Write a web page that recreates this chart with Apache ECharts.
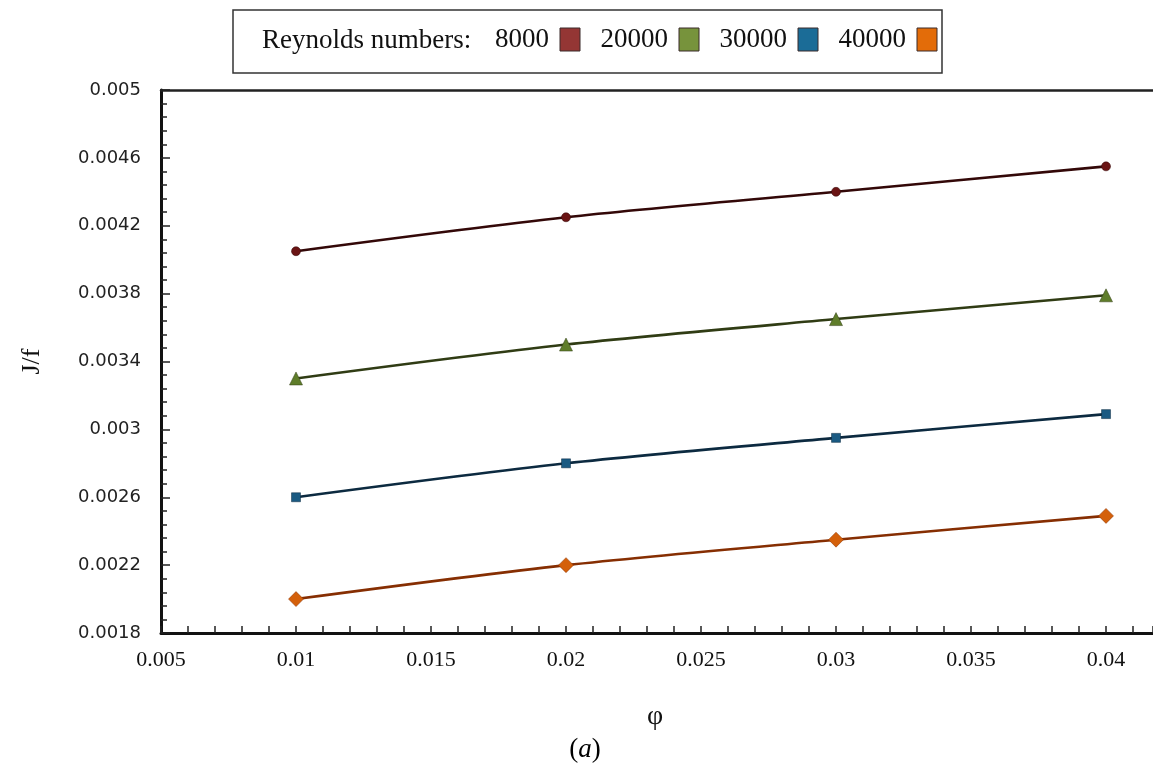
<!DOCTYPE html>
<html>
<head>
<meta charset="utf-8">
<script src="https://cdn.jsdelivr.net/npm/echarts@6/dist/echarts.min.js"></script>
<style>html,body{margin:0;padding:0;background:#fff;}#c{width:1153px;height:770px;}</style>
</head>
<body>
<div id="c"></div>
<script>
// ---- data ----
const phi = [0.01, 0.02, 0.03, 0.04];
const seriesNames = ['8000', '20000', '30000', '40000'];
const re8000 = [0.00405, 0.00425, 0.00440, 0.00455];
const re20000 = [0.00330, 0.00350, 0.00365, 0.00379];
const re30000 = [0.00260, 0.00280, 0.00295, 0.00309];
const re40000 = [0.00200, 0.00220, 0.00235, 0.00249];
const yTicks = ['0.0018','0.0022','0.0026','0.003','0.0034','0.0038','0.0042','0.0046','0.005'];
const xTicks = ['0.005','0.01','0.015','0.02','0.025','0.03','0.035','0.04'];

const legendColors = ['#943634', '#77933C', '#1B6C97', '#E36C09'];
const lineColors = ['#330808', '#303c14', '#0c2a40', '#862e02'];
const markerColors = ['#6a1414', '#5f7d2a', '#1a5a82', '#d4600a'];
const symbols = ['circle', 'triangle', 'rect', 'diamond'];
const symbolSizes = [9, 13, 9, 15];
const values = [re8000, re20000, re30000, re40000];

const X_MIN = 0.005, X_MAX = 0.04174;
const chart = echarts.init(document.getElementById('c'), null, {renderer: 'canvas'});
const serif = '"Liberation Serif", "DejaVu Serif", serif';

chart.setOption({
  animation: false,
  backgroundColor: '#fff',
  grid: {left: 161, top: 90, bottom: 137, right: 0},
  legend: {
    left: 495, top: 26, padding: 0,
    align: 'right', icon: 'rect', itemWidth: 20, itemHeight: 23, itemGap: 20,
    textStyle: {fontFamily: serif, fontSize: 27, color: '#111', padding: [0, 6, 0, 0]},
    data: seriesNames.map((n, i) => ({name: n, itemStyle: {color: legendColors[i], borderColor: '#3a2a2a', borderWidth: 1}}))
  },
  xAxis: [{
    type: 'value', min: X_MIN, max: X_MAX, interval: 0.005, position: 'bottom',
    axisLine: {show: true, onZero: false, lineStyle: {color: '#111', width: 3}},
    axisTick: {show: false},
    splitLine: {show: false},
    axisLabel: {margin: 16, fontFamily: serif, fontSize: 22, color: '#111', showMaxLabel: false,
      formatter: v => { const s = String(+v.toFixed(4)); return xTicks.indexOf(s) >= 0 ? s : ''; }}
  }, {
    type: 'value', min: X_MIN, max: X_MAX, interval: 0.001, position: 'bottom',
    axisLine: {show: false, onZero: false},
    axisTick: {show: true, inside: true, length: 7, lineStyle: {color: '#222', width: 1.5}},
    axisLabel: {show: false}, splitLine: {show: false}
  }, {
    type: 'value', min: X_MIN, max: X_MAX, position: 'top',
    axisLine: {show: true, onZero: false, lineStyle: {color: '#222', width: 2.5}},
    axisTick: {show: false}, axisLabel: {show: false}, splitLine: {show: false}
  }],
  yAxis: {
    type: 'value', min: 0.0018, max: 0.005, interval: 0.0004,
    name: 'J/f', nameLocation: 'middle', nameGap: 116,
    nameTextStyle: {fontFamily: serif, fontSize: 26, color: '#111'},
    axisLine: {show: true, onZero: false, lineStyle: {color: '#111', width: 3}},
    axisTick: {show: true, inside: true, length: 9, lineStyle: {color: '#222', width: 1.5}},
    minorTick: {show: true, splitNumber: 5, length: 6, lineStyle: {color: '#222', width: 1.5}},
    splitLine: {show: false},
    axisLabel: {margin: 20, fontFamily: '"DejaVu Sans", sans-serif', fontSize: 18, color: '#222',
      formatter: v => { const s = String(+v.toFixed(4)); return yTicks.indexOf(s) >= 0 ? s : ''; }}
  },
  graphic: [
    {type: 'rect', shape: {x: 233, y: 10, width: 709, height: 63}, style: {fill: '#fff', stroke: '#333', lineWidth: 1.5}, z: -1},
    {type: 'text', x: 262, y: 41, style: {text: 'Reynolds numbers:', font: '27px ' + serif, fill: '#111', verticalAlign: 'middle'}},
    {type: 'text', x: 655, y: 717, style: {text: 'φ', font: '28px ' + serif, fill: '#111', align: 'center', verticalAlign: 'middle'}},
    {type: 'text', x: 585, y: 750, style: {
      text: '{n|(}{i|a}{n|)}', align: 'center', verticalAlign: 'middle',
      rich: {n: {fontFamily: serif, fontSize: 27, color: '#111'}, i: {fontFamily: serif, fontSize: 27, fontStyle: 'italic', color: '#111'}}
    }}
  ],
  series: values.map((arr, i) => ({
    name: seriesNames[i], type: 'line', smooth: 0.3, xAxisIndex: 0,
    data: phi.map((x, k) => [x, arr[k]]),
    symbol: symbols[i], symbolSize: symbolSizes[i],
    lineStyle: {color: lineColors[i], width: 2.6},
    itemStyle: {color: markerColors[i], borderColor: lineColors[i], borderWidth: 0.5}
  }))
});
</script>
</body>
</html>
